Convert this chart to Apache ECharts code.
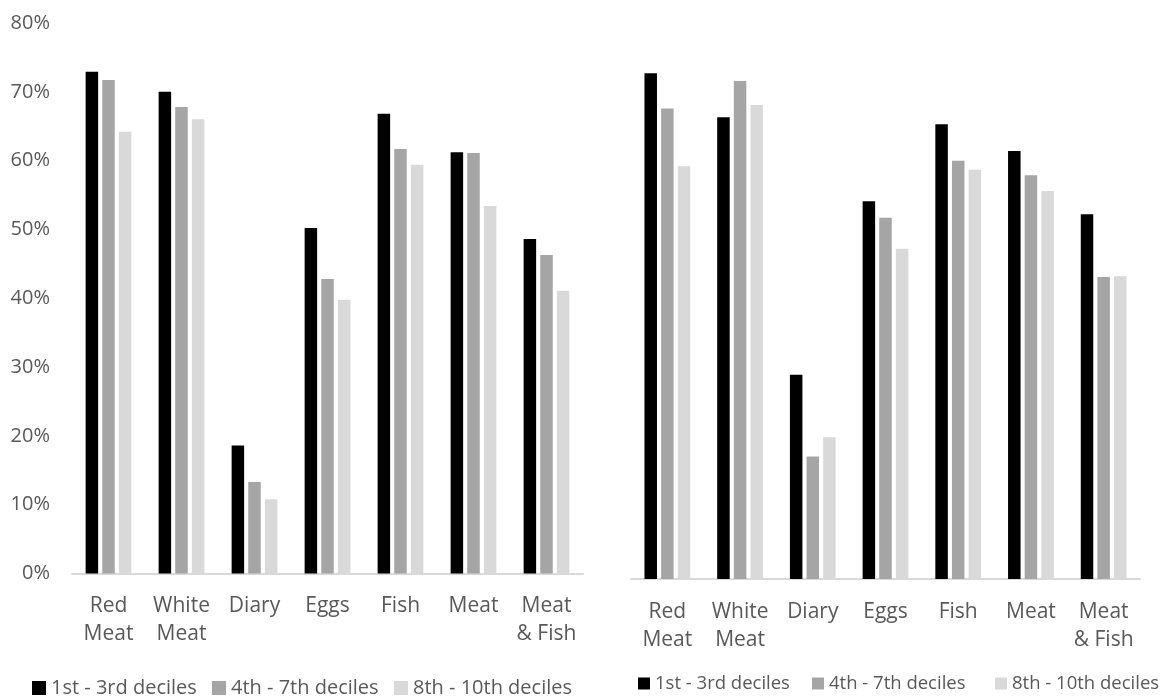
<!DOCTYPE html>
<html>
<head>
<meta charset="utf-8">
<script src="https://cdn.jsdelivr.net/npm/echarts@6/dist/echarts.min.js"></script>
<style>
html,body{margin:0;padding:0;background:#fff;}
#chart{width:1160px;height:697px;}
</style>
</head>
<body>
<div id="chart"></div>
<script>
const categories = ['Red\nMeat', 'White\nMeat', 'Diary', 'Eggs', 'Fish', 'Meat', 'Meat\n& Fish'];
const seriesNames = ['1st - 3rd deciles', '4th - 7th deciles', '8th - 10th deciles'];
const yTicks = [0, 10, 20, 30, 40, 50, 60, 70, 80];

// Left panel (%)
const leftLow  = [72.9, 70.0, 18.6, 50.2, 66.8, 61.2, 48.6];
const leftMid  = [71.7, 67.8, 13.3, 42.8, 61.7, 61.1, 46.3];
const leftHigh = [64.2, 66.0, 10.8, 39.8, 59.4, 53.4, 41.1];

// Right panel (%)
const rightLow  = [73.5, 67.1, 29.7, 54.9, 66.1, 62.2, 53.0];
const rightMid  = [68.4, 72.4, 17.8, 52.5, 60.8, 58.7, 43.9];
const rightHigh = [60.0, 68.9, 20.6, 48.0, 59.5, 56.4, 44.0];

const colors = ['#000000', '#a5a5a5', '#d9d9d9'];
const textColor = '#595959';
const font = 'Open Sans';

const chart = echarts.init(document.getElementById('chart'), null, {renderer: 'canvas'});

function xAxis(gridIndex) {
  return {
    type: 'category', gridIndex: gridIndex, data: categories,
    axisTick: {show: false},
    axisLine: {lineStyle: {color: '#d9d9d9', width: 2}},
    axisLabel: {color: textColor, fontFamily: font, fontSize: 21, lineHeight: 28, margin: 19, interval: 0}
  };
}
function yAxis(gridIndex, showLabels) {
  return {
    type: 'value', gridIndex: gridIndex, min: yTicks[0], max: yTicks[yTicks.length - 1], interval: 10,
    splitLine: {show: false}, axisLine: {show: false}, axisTick: {show: false},
    axisLabel: {show: showLabels, color: textColor, fontFamily: font, fontSize: 20, margin: 22,
      formatter: v => v + '%'}
  };
}
function bar(name, data, idx, axisIdx) {
  return {
    type: 'bar', name: name, data: data, xAxisIndex: axisIdx, yAxisIndex: axisIdx,
    barWidth: 12.5, barGap: '33%',
    itemStyle: {color: colors[idx]},
    emphasis: {disabled: true}
  };
}
function legend(name, left, top, size, fontSize) {
  return {
    data: [name], left: left, top: top, icon: 'rect', itemWidth: size, itemHeight: size,
    textStyle: {color: textColor, fontFamily: font, fontSize: fontSize}, padding: 0, itemGap: 0
  };
}

const option = {
  animation: false,
  backgroundColor: '#ffffff',
  grid: [
    {left: 72, right: 577, top: 23, bottom: 123.5},
    {left: 631, right: 20, top: 28.6, bottom: 118}
  ],
  xAxis: [xAxis(0), xAxis(1)],
  yAxis: [yAxis(0, true), yAxis(1, false)],
  legend: [
    legend(seriesNames[0], 32, 678, 14, 20),
    legend(seriesNames[1], 212, 678, 14, 20),
    legend(seriesNames[2], 394, 678, 14, 20),
    legend(seriesNames[0], 638, 674, 12, 18.5),
    legend(seriesNames[1], 812, 674, 12, 18.5),
    legend(seriesNames[2], 995, 674, 12, 18.5)
  ],
  series: [
    bar(seriesNames[0], leftLow, 0, 0),
    bar(seriesNames[1], leftMid, 1, 0),
    bar(seriesNames[2], leftHigh, 2, 0),
    bar(seriesNames[0], rightLow, 0, 1),
    bar(seriesNames[1], rightMid, 1, 1),
    bar(seriesNames[2], rightHigh, 2, 1)
  ]
};
chart.setOption(option);
</script>
</body>
</html>
